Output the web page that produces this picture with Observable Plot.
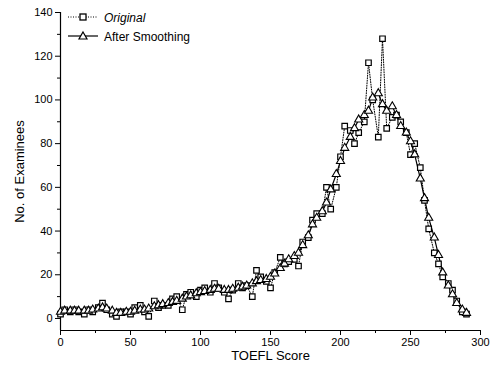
<!DOCTYPE html>
<html><head><meta charset="utf-8">
<script src="https://cdn.jsdelivr.net/npm/d3@7"></script>
<script src="https://cdn.jsdelivr.net/npm/@observablehq/plot@0.6"></script>
<style>
body{margin:0;background:#fff;font-family:"Liberation Sans",Arial,sans-serif;}
#wrap{position:relative;width:497px;height:370px;}
#legend{position:absolute;left:64px;top:6px;}
</style></head><body>
<div id="wrap">
<div id="chart"></div>
<svg id="legend" width="200" height="42" font-family="Liberation Sans, Arial, sans-serif" font-size="12">
  <line x1="4" y1="11" x2="34" y2="11" stroke="#000" stroke-dasharray="1,1.5"/>
  <rect x="16" y="8" width="6" height="6" fill="#fff" stroke="#000" stroke-width="1.3"/>
  <text x="40" y="15.5" font-style="italic">Original</text>
  <line x1="4" y1="30" x2="34" y2="30" stroke="#000" stroke-width="1.2"/>
  <path d="M19,26 L23,33 L15,33 Z" fill="#fff" stroke="#000" stroke-width="1.2"/>
  <text x="40" y="34.5">After Smoothing</text>
</svg>
</div>
<script>
const scores = [0,3,7,10,13,17,20,23,27,30,33,37,40,43,47,50,53,57,60,63,67,70,73,77,80,83,87,90,93,97,100,103,107,110,113,117,120,123,127,130,133,137,140,143,147,150,153,157,160,163,167,170,173,177,180,183,187,190,193,197,200,203,207,210,213,217,220,223,227,230,233,237,240,243,247,250,253,257,260,263,267,270,273,277,280,283,287,290];
const original = [2,4,3,4,3,2,4,3,5,7,4,2,1,3,3,2,5,6,3,1,8,5,6,6,9,10,4,11,12,10,13,14,12,16,14,12,9,13,16,14,15,10,22,19,17,14,21,28,25,26,27,24,35,37,45,48,48,60,50,60,74,88,86,80,85,90,117,100,83,128,87,92,93,90,85,75,80,69,54,41,30,25,19,16,13,8,3,2];
const smoothed = [3,3.5,3.5,3.5,3.5,3.5,3.5,4,4.5,5,4.5,3.5,2.5,2.5,3,3,3.5,4,4,4.5,5.5,6,6.5,7,7.5,8,9,10,10.5,11.5,12,12.5,13,13.5,13.5,13,13,13.5,14,14.5,15,16,17,17.5,18,19,20.5,23,25,27,28.5,30,33.5,38,43,46,49,53,59,66,72,78,83,87,91,93,95,101,103,98,95,97,93,88,85,81,75,64,55,46,37,29,21,15,11,7,4,2.5];
const xTicks = [0,50,100,150,200,250,300];
const xMinor = [25,75,125,175,225,275];
const yTicks = [0,20,40,60,80,100,120,140];
const yMinor = [10,30,50,70,90,110,130];

const orig = scores.map((s,i)=>({x:s,y:original[i]}));
const smo = scores.map((s,i)=>({x:s,y:smoothed[i]}));

const chart = Plot.plot({
  width:497, height:370,
  marginLeft:60, marginRight:17, marginTop:12, marginBottom:40,
  style:{fontFamily:"Liberation Sans, Arial, sans-serif", fontSize:"11px", color:"#000", background:"#fff"},
  x:{domain:[0,300]},
  y:{domain:[-5.5,140]},
  marks:[
    Plot.axisX({ticks:xTicks, tickSize:5, tickPadding:3, label:"TOEFL Score", labelAnchor:"center", labelArrow:"none", labelOffset:29, fontSize:11}),
    Plot.axisX({ticks:xMinor, tickSize:3, text:null, label:null}),
    Plot.axisY({ticks:yTicks, tickSize:5, tickPadding:3, label:"No. of Examinees", labelAnchor:"center", labelArrow:"none", labelOffset:46}),
    Plot.axisY({ticks:yMinor, tickSize:3, text:null, label:null}),
    Plot.ruleX([0], {stroke:"#000", strokeWidth:1.2}),
    Plot.ruleY([-5.5], {stroke:"#000", strokeWidth:1.2}),
    Plot.line(orig, {x:"x", y:"y", stroke:"#000", strokeWidth:1, strokeDasharray:"1,1.5"}),
    Plot.line(smo, {x:"x", y:"y", stroke:"#000", strokeWidth:1.2}),
    Plot.dot(orig, {x:"x", y:"y", symbol:"square", r:3.1, fill:"#fff", stroke:"#000", strokeWidth:1.2}),
    Plot.dot(smo, {x:"x", y:"y", symbol:"triangle", r:3, fill:"#fff", stroke:"#000", strokeWidth:1.1})
  ]
});
document.getElementById("chart").appendChild(chart);
chart.querySelectorAll('[aria-label="x-axis label"] text, [aria-label="y-axis label"] text').forEach(t=>{t.style.fontSize="13px";});
</script>
</body></html>
